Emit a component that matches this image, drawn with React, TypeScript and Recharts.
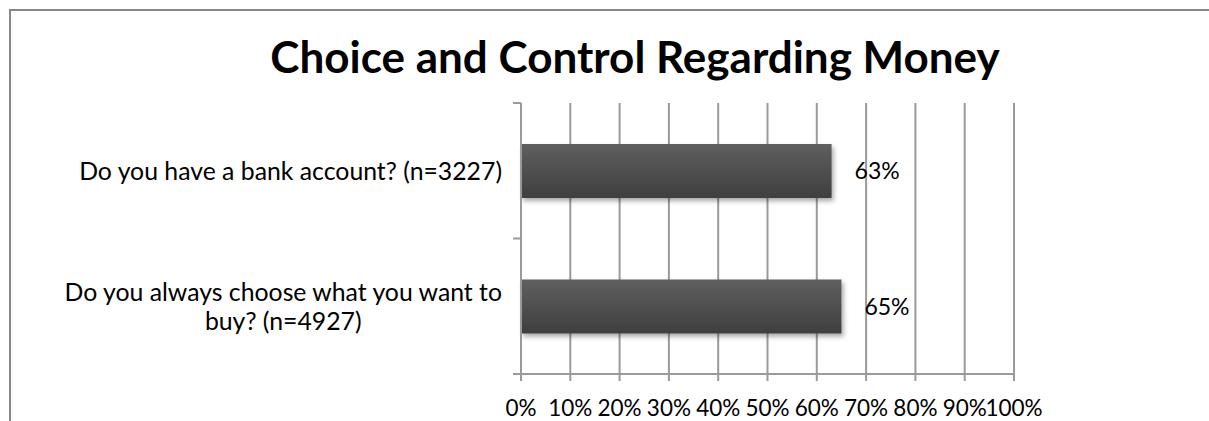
import React from "react";
import { BarChart, Bar, XAxis, YAxis, CartesianGrid, LabelList } from "recharts";

const questions = [
  "Do you have a bank account? (n=3227)",
  "Do you always choose what you want to buy? (n=4927)",
];
const shares = [0.63, 0.65];
const pctTicks = [0, 0.1, 0.2, 0.3, 0.4, 0.5, 0.6, 0.7, 0.8, 0.9, 1];

const data = questions.map((q, i) => ({ question: q, share: shares[i] }));

const FONT = "Lato, 'Open Sans', sans-serif";
const GRID = "#9a9a9a";
const FRAME = "#878787";
const pct = (v: number) => `${Math.round(v * 100)}%`;

// break a long category name into lines of at most maxChars
const wrapWords = (text: string, maxChars: number) => {
  const lines: string[] = [];
  let cur = "";
  text.split(" ").forEach((w) => {
    if (cur && (cur + " " + w).length > maxChars) {
      lines.push(cur);
      cur = w;
    } else {
      cur = cur ? cur + " " + w : w;
    }
  });
  if (cur) lines.push(cur);
  return lines;
};

const QuestionTick = (props: any) => {
  const { x, y, payload, index } = props;
  const half = payload.offset ?? 67.75;
  const last = index === questions.length - 1;
  const lines = wrapWords(String(payload.value), 37);
  return (
    <g>
      <line x1={x - 8} x2={x} y1={y - half} y2={y - half} stroke={GRID} strokeWidth={2} />
      {last && (
        <line x1={x - 8} x2={x} y1={y + half} y2={y + half} stroke={GRID} strokeWidth={2} />
      )}
      <foreignObject x={0} y={y - 45} width={x - 19} height={90}>
        <div
          style={{
            display: "flex",
            justifyContent: "flex-end",
            alignItems: "center",
            height: "100%",
          }}
        >
          <div
            style={{
              textAlign: "center",
              fontFamily: FONT,
              fontSize: 24.8,
              lineHeight: "29px",
              color: "#000",
              whiteSpace: "nowrap",
            }}
          >
            {lines.map((l) => (
              <div key={l}>{l}</div>
            ))}
          </div>
        </div>
      </foreignObject>
    </g>
  );
};

export default function App() {
  return (
    <div
      style={{
        position: "fixed",
        left: 0,
        top: 0,
        width: 1209,
        height: 421,
        overflow: "hidden",
        background: "#fff",
      }}
    >
      {/* chart frame: only the top and left edges fall inside the picture */}
      <div style={{ position: "absolute", left: 9, top: 9, width: 1200, height: 2, background: FRAME }} />
      <div style={{ position: "absolute", left: 9, top: 9, width: 2, height: 412, background: FRAME }} />
      <div
        style={{
          position: "absolute",
          left: 0,
          top: 32,
          width: 1270,
          textAlign: "center",
          fontFamily: FONT,
          fontWeight: 700,
          fontSize: 44,
          lineHeight: "48px",
          color: "#000",
          whiteSpace: "nowrap",
        }}
      >
        Choice and Control Regarding Money
      </div>
      <div style={{ position: "absolute", left: 8, top: 8 }}>
        <BarChart
          width={1201}
          height={413}
          data={data}
          layout="vertical"
          margin={{ top: 95, right: 195, bottom: 7, left: 0 }}
        >
          <defs>
            <linearGradient id="barFill" x1="0" y1="0" x2="0" y2="1">
              <stop offset="0%" stopColor="#5f5f5f" />
              <stop offset="100%" stopColor="#3f3f3f" />
            </linearGradient>
            <filter id="barShadow" x="-5%" y="-20%" width="115%" height="160%">
              <feDropShadow dx="2" dy="3" stdDeviation="2.5" floodColor="#000" floodOpacity="0.35" />
            </filter>
          </defs>
          <CartesianGrid horizontal={false} stroke={GRID} strokeWidth={2} />
          <XAxis
            type="number"
            domain={[0, 1]}
            ticks={pctTicks}
            tickFormatter={pct}
            interval={0}
            height={40}
            tickSize={7}
            tickMargin={19}
            axisLine={{ stroke: GRID, strokeWidth: 2 }}
            tickLine={{ stroke: GRID, strokeWidth: 2 }}
            tick={{ fill: "#000", fontSize: 22.5, fontFamily: FONT }}
          />
          <YAxis
            type="category"
            dataKey="question"
            width={513}
            tickLine={false}
            tickSize={0}
            tickMargin={0}
            axisLine={{ stroke: GRID, strokeWidth: 2 }}
            tick={<QuestionTick />}
          />
          <Bar
            dataKey="share"
            barSize={54}
            fill="url(#barFill)"
            filter="url(#barShadow)"
            isAnimationActive={false}
          >
            <LabelList
              dataKey="share"
              position="right"
              offset={23}
              formatter={(v: any) => pct(Number(v))}
              style={{ fill: "#000", fontSize: 23, fontFamily: FONT, filter: "none" }}
            />
          </Bar>
        </BarChart>
      </div>
    </div>
  );
}
